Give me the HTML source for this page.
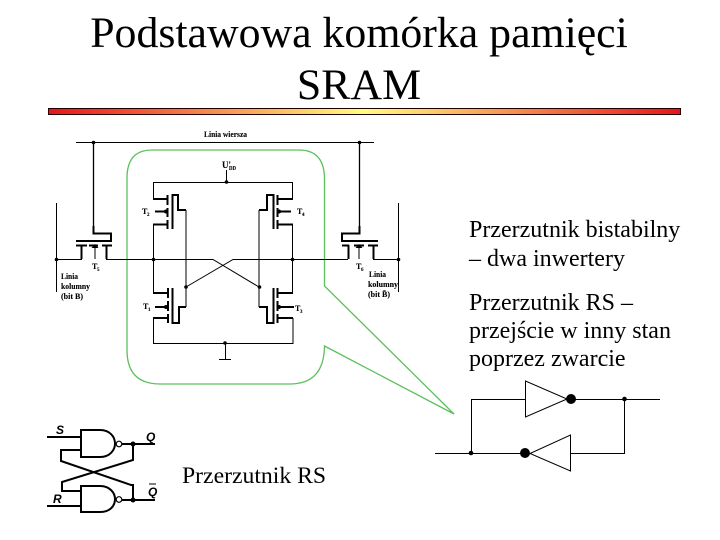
<!DOCTYPE html>
<html><head><meta charset="utf-8"><style>
html,body{margin:0;padding:0;background:#fff;width:720px;height:540px;overflow:hidden}
svg{display:block}
text{font-family:"Liberation Serif",serif;fill:#000}
.s{font-size:8px;font-weight:bold;stroke:#000;stroke-width:.1}
.b{font-size:24px}
.w{fill:none;stroke:#000;stroke-width:1}
.t{fill:none;stroke:#000;stroke-width:2}
.q{font-family:"Liberation Sans",sans-serif;font-weight:bold;font-style:italic;font-size:12px}
</style></head><body>
<svg width="720" height="540" viewBox="0 0 720 540" xmlns="http://www.w3.org/2000/svg">
<defs><linearGradient id="g" x1="0" x2="1" y1="0" y2="0"><stop offset="0" stop-color="#e8141a"/><stop offset=".5" stop-color="#ffff80"/><stop offset="1" stop-color="#e8141a"/></linearGradient></defs>

<text x="359" y="47" text-anchor="middle" font-size="43.800">Podstawowa komórka pamięci</text>
<text x="359" y="99" text-anchor="middle" font-size="43.800">SRAM</text>
<rect x="48.500" y="108.500" width="632" height="6" fill="url(#g)" stroke="#200" stroke-width="1"/>

<!-- green callout -->
<path d="M152 150H299Q324 150 324.500 178V286L454 414L324.500 346Q324 384 290 384H160Q127 384 127 350V178Q127 150 152 150Z" fill="none" stroke="#5cc05c" stroke-width="1.300"/>

<!-- word line -->
<path class="w" d="M76 142.500H374"/>
<!-- access transistors -->
<path class="t" style="stroke-width:1.300" d="M93.500 142V227"/>
<path class="t" d="M93.500 226V233.500H111V241M76 241H112M76 245.500H87M81.500 245V259M89 245.500H98M102 245.500H112M106.500 245V259"/>
<path class="w" d="M95 246V259"/>
<path d="M95 244l-3.500 4h7z"/>
<path class="t" style="stroke-width:1.300" d="M359.500 142V227"/>
<path class="t" d="M359.500 226V233.500H342V241M341 241H378M342 245.500H349M348.500 245V259M354 245.500H364M368 245.500H378M373.500 245V259"/>
<path class="w" d="M359 246V259"/>
<path d="M359 244l-3.500 4h7z"/>
<!-- bit lines -->
<path class="w" d="M56.500 203V292M398.500 203V292"/>
<path class="w" d="M56 259.500H82M106 259.500H213L259 287M398 259.500H373M348 259.500H233L186 287"/>

<!-- VDD and GND rails -->
<path class="w" d="M153.500 199V182.500H292.500V199M226.500 182V170"/>
<path class="w" d="M153.500 224V293M292.500 224V293M153.500 318V343.500H293V318M225.500 343V359M219 359.500H231"/>

<!-- T2 top-left -->
<path class="t" d="M153 199H167M153 224.500H167M167.500 195V205M167.500 208V217M167.500 220V229M172.500 229V195H178V210H186"/>
<path class="w" d="M186 210V307"/>
<path class="t" d="M155 211.500H166"/>
<!-- T4 top-right -->
<path class="t" d="M293 199H278M293 224.500H278M277.500 195V205M277.500 208V217M277.500 220V229M273.500 229V195H267V210H259"/>
<path class="w" d="M259 210V307"/>
<path class="t" d="M278 211.500H291"/>
<!-- T1 lower-left -->
<path class="t" d="M153 293H167M153 318H167M168 288V298M168 301V311M168 314V323M172.500 288V323H179V307H186"/>
<path class="t" d="M155 307H167"/>
<!-- T3 lower-right -->
<path class="t" d="M293 293H277M293 318H277M277.500 288V298M277.500 301V311M277.500 314V323M273.500 288V323H267V307H259"/>
<path class="t" d="M278 307H294"/>

<g>
<circle cx="93.500" cy="142.500" r="1.800"/><circle cx="359.500" cy="142.500" r="1.800"/>
<circle cx="56.500" cy="259.500" r="1.800"/><circle cx="398.500" cy="259.500" r="1.800"/>
<circle cx="153.500" cy="259.500" r="1.800"/><circle cx="292.500" cy="259.500" r="1.800"/>
<circle cx="186" cy="287" r="1.800"/><circle cx="259.500" cy="287" r="1.800"/>
<circle cx="226.500" cy="182" r="1.800"/><circle cx="225" cy="343" r="1.800"/>
<circle cx="166" cy="211.500" r="2"/><circle cx="279" cy="211.500" r="2"/>
<circle cx="166" cy="307" r="2"/><circle cx="279" cy="307" r="2"/>
</g>

<!-- small labels -->
<text class="s" x="204" y="137" textLength="43" lengthAdjust="spacingAndGlyphs">Linia wiersza</text>
<text class="s" x="222" y="168" style="font-size:9px">U'</text><text class="s" x="229" y="170" style="font-size:6px" textLength="7" lengthAdjust="spacingAndGlyphs">DD</text>
<text class="s" x="142" y="214">T</text><text class="s" x="147" y="216" style="font-size:5px">2</text>
<text class="s" x="297" y="214">T</text><text class="s" x="302" y="216" style="font-size:5px">4</text>
<text class="s" x="143" y="309">T</text><text class="s" x="148" y="311" style="font-size:5px">1</text>
<text class="s" x="295" y="311">T</text><text class="s" x="300" y="313" style="font-size:5px">3</text>
<text class="s" x="92" y="269">T</text><text class="s" x="97" y="271" style="font-size:5px">5</text>
<text class="s" x="356" y="269">T</text><text class="s" x="361" y="271" style="font-size:5px">6</text>
<text class="s" x="61" y="279" textLength="17" lengthAdjust="spacingAndGlyphs">Linia</text>
<text class="s" x="61" y="289" textLength="29" lengthAdjust="spacingAndGlyphs">kolumny</text>
<text class="s" x="61" y="299" textLength="22" lengthAdjust="spacingAndGlyphs">(bit B)</text>
<text class="s" x="369" y="277" textLength="17" lengthAdjust="spacingAndGlyphs">Linia</text>
<text class="s" x="368" y="287" textLength="30" lengthAdjust="spacingAndGlyphs">kolumny</text>
<text class="s" x="368" y="297" textLength="22" lengthAdjust="spacingAndGlyphs">(bit B̄)</text>

<!-- right text -->
<text class="b" x="469" y="237">Przerzutnik bistabilny</text>
<text class="b" x="469" y="266">– dwa inwertery</text>
<text class="b" x="469" y="310">Przerzutnik RS –</text>
<text class="b" x="469" y="338">przejście w inny stan</text>
<text class="b" x="469" y="366">poprzez zwarcie</text>
<text class="b" x="182" y="483" style="font-size:23.700px">Przerzutnik RS</text>

<!-- latch -->
<path class="w" d="M435 453.500H525M471.500 453V399.500H525M525.500 381V417L567 399ZM571 399.500H660M624.500 399V453.500H570M570.500 435V471L530 453.500Z"/>
<circle cx="571" cy="399" r="5"/><circle cx="525" cy="453" r="5"/>
<circle cx="471" cy="453" r="2.300"/><circle cx="624.500" cy="399" r="2.300"/>

<!-- RS NAND -->
<g>
<path class="t" d="M81 430H100C110 430 115 437 115 443.500C115 450 110 457 100 457H81ZM81 486H100C110 486 115 493 115 499C115 506 110 512 100 512H81Z"/>
<circle class="w" cx="119" cy="444" r="2.800" style="stroke-width:1.200"/><circle class="w" cx="119" cy="499.500" r="2.800" style="stroke-width:1.200"/>
<path class="t" d="M47 437H81M47 506H81M122 444H155M122 500H155M133 444V460L62 482V491H81M81 450H61V461L131 485H133V500"/>
<circle cx="133" cy="444" r="2.500"/><circle cx="133" cy="500" r="2.500"/>
<text class="q" x="56" y="434">S</text>
<text class="q" x="146" y="441">Q</text>
<text class="q" x="53" y="503">R</text>
<text class="q" x="148" y="496">Q</text>
<path class="t" style="stroke-width:1" d="M149 484H156"/>
</g>
</svg>
</body></html>
